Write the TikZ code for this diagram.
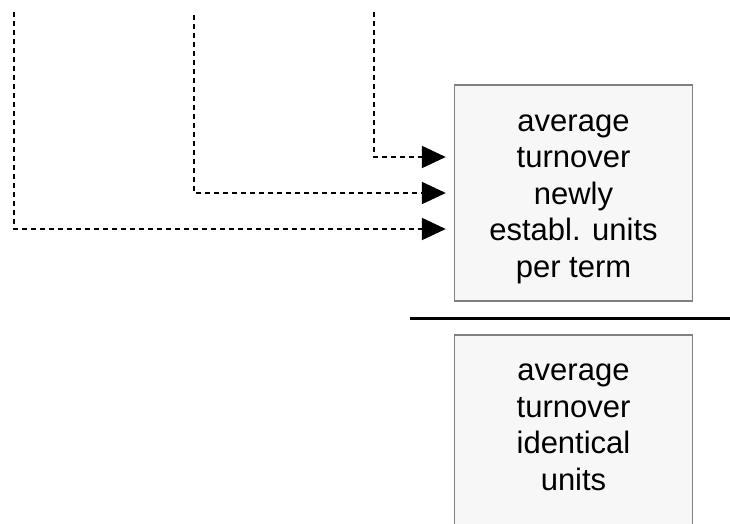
\documentclass[tikz,border=0pt]{standalone}
\usepackage{fontspec}
\setmainfont{Liberation Sans}
\usetikzlibrary{arrows.meta}
\usetikzlibrary{positioning}

\tikzset{
  termbox/.style={draw=black!50, line width=1.4pt, fill=black!3, rectangle, align=center,
    minimum width=238pt, minimum height=216pt, inner sep=0pt,
    font=\fontsize{31}{36.5}\selectfont},
  feed/.style={line width=2pt, dash pattern=on 5pt off 4pt, shorten >=8pt,
    -{Triangle[length=24pt, width=22pt]}}
}

\begin{document}
\begin{tikzpicture}[x=1pt, y=-1pt]
            \useasboundingbox (0,0) rectangle (730,523);

            \node[termbox, text height=176pt, text depth=8pt] (newunits) at (573.5,193) {average\\turnover\\newly\\establ. units\\per term};
            \node[termbox, text height=102pt, text depth=8pt] (sameunits) at (573.5,443) {average\\turnover\\identical\\units};

            \coordinate (srcA) at (14,12);
            \coordinate (srcB) at (194,15);
            \coordinate (srcC) at (374,12);
            \coordinate (barL) at (410,318);
            \coordinate (barR) at (730,318);

            \draw[feed] (srcC) |- ([yshift=36pt]newunits.west);
            \draw[feed] (srcB) |- (newunits.west);
            \draw[feed] (srcA) |- ([yshift=-36pt]newunits.west);

            \draw[line width=3pt] (barL) -- (barR);
        \end{tikzpicture}
\end{document}
